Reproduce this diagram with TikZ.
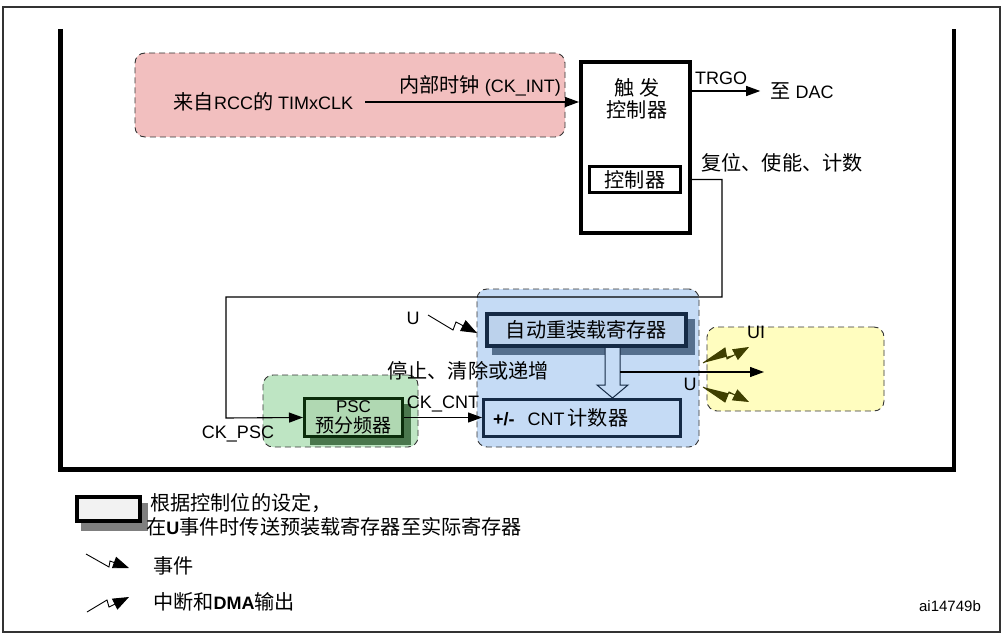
\documentclass[tikz,border=0pt]{standalone}
\usepackage{fontspec}
\setmainfont{Liberation Sans}
\newfontfamily\cjk{Noto Sans CJK SC}[Scale=1.12]
\usetikzlibrary{arrows.meta}
\definecolor{pinkfill}{HTML}{F2BFBF}
\definecolor{greenfill}{HTML}{BEE5C3}
\definecolor{pscfill}{HTML}{B0D8B2}
\definecolor{pscedge}{HTML}{0B2D0B}
\definecolor{pscshadow}{HTML}{4A774D}
\definecolor{bluefill}{HTML}{C5DBF5}
\definecolor{regfill}{HTML}{BCD2EC}
\definecolor{regedge}{HTML}{152A45}
\definecolor{regshadow}{HTML}{556F8D}
\definecolor{yellowfill}{HTML}{FFFDBF}
\definecolor{olivec}{HTML}{3F3F00}
\definecolor{dashgray}{HTML}{333333}
\definecolor{legfill}{HTML}{F2F2F2}
\definecolor{legshadow}{HTML}{7F7F7F}
\tikzset{
  region/.style={draw=dashgray, dash pattern=on 6pt off 4pt, line width=0.9pt, rounded corners=10pt, inner sep=0pt},
  lbl/.style={inner sep=0pt, font=\fontsize{18}{21}\selectfont},
  conn/.style={line width=1.1pt, -{Triangle[length=14pt,width=10pt]}},
  bolt/.style={line width=0.9pt, -{Triangle[length=16pt,width=12pt]}},
  shadowbox/.style={fill=#1, inner sep=0pt},
}
\begin{document}
\begin{tikzpicture}[x=1pt,y=-1pt]
\useasboundingbox (0,0) rectangle (1007,639);
% frames
\draw[line width=1.5pt, draw=black!80] (3,7) rectangle (1000,632);
\draw[line width=4.2pt] (60.5,29) -- (60.5,469.5) -- (954,469.5) -- (954,29);
% regions
\node[region, fill=pinkfill, minimum width=430pt, minimum height=84pt] (pink) at (350,95) {};
\node[region, fill=greenfill, minimum width=155pt, minimum height=72pt] (green) at (340.5,411) {};
\node[region, fill=bluefill, minimum width=222pt, minimum height=158pt] (blue) at (588,368) {};
\node[region, fill=yellowfill, minimum width=177pt, minimum height=84pt] (yellow) at (795.5,369) {};
% trigger controller
\node[draw, line width=4pt, fill=white, minimum width=109pt, minimum height=171pt, inner sep=0pt] (trig) at (635.5,147.5) {};
\node[lbl, align=center, font=\fontsize{18}{22}\selectfont] (trigtxt) at (637,99) {{\cjk 触 发}\\{\cjk 控制器}};
\node[draw, line width=3pt, minimum width=91pt, minimum height=26pt, inner sep=0pt, lbl] (ctrl) at (635,179.5) {\cjk 控制器};
% source
\node[lbl] (src) at (263.5,102) {{\cjk 来自}RCC{\cjk 的} TIMxCLK};
\node[lbl] (ckint) at (480,86) {{\cjk 内部时钟} (CK\_INT)};
\draw[conn] ([xshift=12pt]src.east) -- (trig.west |- src.east);
% TRGO
\node[lbl] (dac) at (802,91) {{\cjk 至} DAC};
\node[lbl] (trgo) at (721,78) {TRGO};
\draw[conn] (trig.east |- dac.west) -- ([xshift=-10pt]dac.west);
\node[lbl] (rst) at (782,163) {\cjk 复位、使能、计数};
% PSC
\node[shadowbox=pscshadow, minimum width=101pt, minimum height=41pt] (pscsh) at (360.5,424.5) {};
\node[draw=pscedge, line width=3pt, fill=pscfill, minimum width=98pt, minimum height=38pt, inner sep=0pt,
      align=center, font=\fontsize{17}{19.5}\selectfont] (psc) at (353.5,417.5) {PSC\\{\cjk 预分频器}};
% auto reload
\node[shadowbox=regshadow, minimum width=202.5pt, minimum height=35.5pt] (arrsh) at (593.5,337) {};
\node[draw=regedge, line width=3.5pt, fill=regfill, minimum width=199pt, minimum height=32pt, inner sep=0pt, lbl] (arr) at (586.5,330) {\cjk 自动重装载寄存器};
% counter
\node[draw=regedge, line width=3pt, fill=bluefill, minimum width=197pt, minimum height=37pt, inner sep=0pt] (cnt) at (582,418) {};
\node[lbl, anchor=west] (cnttxt) at (493,418) {\textbf{+/-}\hspace{13pt}CNT\,{\cjk 计数器}};
% feedback path from controller to PSC
\coordinate (c1) at (722,297);
\coordinate (c2) at (226,418);
\draw[conn] (trig.east |- ctrl.east) -| (c1) -| (c2) -- (psc.west);
\draw[conn] (psc.east) -- (cnt.west |- psc.east);
\node[lbl] (ckpsc) at (238,434) {CK\_PSC};
\node[lbl] (ckcnt) at (443,404) {CK\_CNT};
\node[lbl] (stop) at (468,371) {\cjk 停止、清除或递增};
% hollow transfer arrow
\draw[draw=regedge, fill=bluefill, line width=1pt] (605,348) -- (605,385) -- (597,385) -- (612.5,398) -- (628,385) -- (620,385) -- (620,348);
\coordinate (split) at (620,372);
\coordinate (uiout) at (764,372);
\draw[conn] (split) -- (uiout);
% U event
\node[lbl] (uev) at (413,318) {U};
\draw[bolt] (428,315) -- (453,330) -- (456,322) -- (477,333);
% yellow area
\node[lbl] (ui) at (756,332) {UI};
\node[lbl] (uout) at (690,384) {U};
\draw[bolt, draw=olivec, fill=olivec] (703,363) -- (725,348) -- (727,359) -- (749,347);
\draw[bolt, draw=olivec, fill=olivec] (703,387) -- (725,402) -- (729,392) -- (749,402);
% legend
\node[shadowbox=legshadow, minimum width=67pt, minimum height=28pt] (legsh) at (114.5,517) {};
\node[draw, line width=4pt, fill=legfill, minimum width=63pt, minimum height=24pt, inner sep=0pt] (legbox) at (108.5,509) {};
\node[lbl, anchor=west] (leg1) at (150,503) {\cjk 根据控制位的设定，};
\node[lbl, anchor=west] (leg2) at (146,527) {{\cjk 在}\textbf{U}{\cjk 事件时传送预装载寄存器至实际寄存器}};
\draw[bolt] (86,554) -- (109,567) -- (110,561) -- (129,568);
\node[lbl, anchor=west] (leg3) at (153,566) {\cjk 事件};
\draw[bolt] (87,612) -- (107,600) -- (109,607) -- (129,597);
\node[lbl, anchor=west] (leg4) at (153,602) {{\cjk 中断和}\textbf{DMA}{\cjk 输出}};
\node[inner sep=0pt, font=\fontsize{15}{17}\selectfont] (id) at (950,606) {ai14749b};
\end{tikzpicture}
\end{document}
